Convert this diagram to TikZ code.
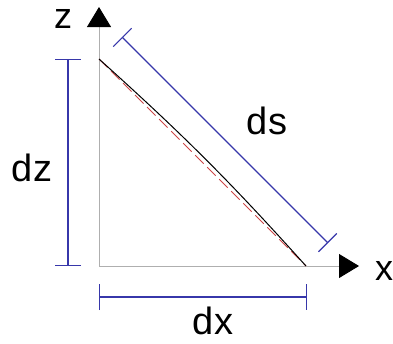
\documentclass[tikz,border=0pt]{standalone}
\usepackage{fontspec}
\setmainfont{Liberation Sans}
\usetikzlibrary{arrows.meta, positioning}
\definecolor{dimblue}{RGB}{55,55,170}
\definecolor{axisgray}{RGB}{175,175,175}
\definecolor{dashred}{RGB}{205,70,70}

\begin{document}
\begin{tikzpicture}[
          x=1pt, y=-1pt,
          every node/.style={inner sep=0pt, anchor=base},
          axis/.style={axisgray, line width=0.9pt, -{Triangle[length=20pt, width=24pt, black]}},
          dimline/.style={dimblue, line width=1.1pt, {Bar[width=26pt]}-{Bar[width=26pt]}},
          biglabel/.style={font=\fontsize{38}{38}\selectfont},
          axlabel/.style={font=\fontsize{36}{36}\selectfont}
        ]
          \useasboundingbox (0,0) rectangle (393,343);

          % Axes
          \coordinate (origin) at (99,266);
          \coordinate (ztip) at (99,7);
          \coordinate (xtip) at (359,266);
          \node[axlabel] (zlabel) at (63,28) {z};
          \node[axlabel] (xlabel) at (384,280) {x};

          % Curve and chord
          \coordinate (top) at (99,59);
          \coordinate (bottom) at (306,266);

          % Dimension ends
          \coordinate (dzA) at (68,59);
          \coordinate (dzB) at (68,266);
          \coordinate (dxA) at (99,297);
          \coordinate (dxB) at (307,297);
          \coordinate (dsA) at (122,37);
          \coordinate (dsB) at (328,243);

          % Labels
          \node[biglabel] (dz) at (32,181) {dz};
          \node[biglabel] (dx) at (213,334) {dx};
          \node[biglabel] (ds) at (267,134) {ds};

          % Arrows
          \draw[axis] (origin) -- (ztip);
          \draw[axis] (origin) -- (xtip);
          \draw[dashred, line width=1pt, dash pattern=on 12pt off 5pt] (top) -- (bottom);
          \draw[black, line width=1pt] (top) to[bend left=3] (bottom);
          \draw[dimline] (dzA) -- (dzB);
          \draw[dimline] (dxA) -- (dxB);
          \draw[dimline] (dsA) -- (dsB);
        \end{tikzpicture}
\end{document}
